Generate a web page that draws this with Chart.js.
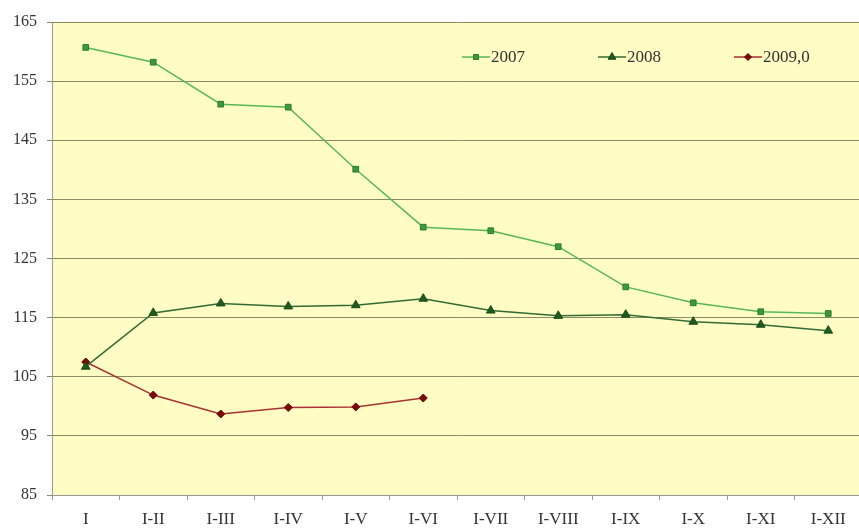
<!DOCTYPE html>
<html>
<head>
<meta charset="utf-8">
<script src="https://cdn.jsdelivr.net/npm/chart.js@4"></script>
<style>
  html, body { margin: 0; padding: 0; background: #fff; overflow: hidden; }
  #wrap { position: relative; width: 868px; height: 531px; }
</style>
</head>
<body>
<div id="wrap"><canvas id="chart-1"></canvas></div>
<script>
const ctx = document.getElementById('chart-1');

const labels = ['I', 'I-II', 'I-III', 'I-IV', 'I-V', 'I-VI', 'I-VII', 'I-VIII', 'I-IX', 'I-X', 'I-XI', 'I-XII'];
const values2007 = [160.7, 158.2, 151.1, 150.6, 140.1, 130.3, 129.7, 127.0, 120.2, 117.5, 116.0, 115.7];
const values2008 = [106.7, 115.8, 117.4, 116.9, 117.1, 118.2, 116.2, 115.3, 115.5, 114.3, 113.8, 112.8];
const values2009 = [107.5, 101.9, 98.7, 99.8, 99.9, 101.4];

// plot area background + legend drawn inside the plot, line + marker like the original
const plotBg = {
    id: 'plotBg',
    beforeDraw(chart) {
        const a = chart.chartArea;
        const c = chart.ctx;
        c.save();
        c.fillStyle = '#fffcc4';
        c.fillRect(a.left, a.top, a.right - a.left, a.bottom - a.top);
        c.restore();
    },
    afterDraw(chart) {
        const a = chart.chartArea;
        const c = chart.ctx;
        const y = a.top + 35;
        chart.data.datasets.forEach((ds, i) => {
            const x = a.left + 410 + i * 136;
            c.save();
            c.strokeStyle = ds.borderColor;
            c.lineWidth = 1.5;
            c.beginPath();
            c.moveTo(x, y);
            c.lineTo(x + 28, y);
            c.stroke();
            c.fillStyle = ds.pointBackgroundColor;
            c.strokeStyle = ds.pointBorderColor;
            c.lineWidth = 1;
            Chart.helpers.drawPoint(c, {
                pointStyle: ds.pointStyle,
                radius: ds.pointRadius - 0.5,
                borderWidth: 1
            }, x + 14, y);
            c.fillStyle = '#333';
            c.font = '17px "Liberation Serif"';
            c.textBaseline = 'middle';
            c.fillText(ds.label, x + 29, y + 1);
            c.restore();
        });
    }
};

new Chart(ctx, {
    type: 'line',
    data: {
        labels: labels,
        datasets: [
            {
                label: '2007',
                data: values2007,
                borderColor: '#58b858',
                borderWidth: 1.5,
                pointStyle: 'rect',
                pointRadius: 4,
                pointBackgroundColor: '#3c9a3c',
                pointBorderColor: '#2c7a2c',
                pointBorderWidth: 1
            },
            {
                label: '2008',
                data: values2008,
                borderColor: '#336b33',
                borderWidth: 1.5,
                pointStyle: 'triangle',
                pointRadius: 5,
                pointBackgroundColor: '#1f5a1f',
                pointBorderColor: '#1a4a1a',
                pointBorderWidth: 1
            },
            {
                label: '2009,0',
                data: values2009,
                borderColor: '#a83232',
                borderWidth: 1.5,
                pointStyle: 'rectRot',
                pointRadius: 4,
                pointBackgroundColor: '#7a0a0a',
                pointBorderColor: '#6a0000',
                pointBorderWidth: 1
            }
        ]
    },
    options: {
        responsive: true,
        maintainAspectRatio: false,
        animation: false,
        layout: { padding: { top: 22, right: 1, left: 0, bottom: 0 } },
        plugins: {
            legend: { display: false },
            tooltip: { enabled: false }
        },
        scales: {
            x: {
                offset: true,
                afterFit(scale) { scale.height = 36; },
                grid: {
                    offset: true,
                    drawOnChartArea: false,
                    tickLength: 5,
                    color: '#999'
                },
                border: { color: '#999' },
                ticks: {
                    color: '#333',
                    padding: 9,
                    maxRotation: 0,
                    font: { family: 'Liberation Serif', size: 17 }
                }
            },
            y: {
                min: 85,
                max: 165,
                afterFit(scale) { scale.width = 52; },
                ticks: {
                    stepSize: 10,
                    color: '#333',
                    padding: 10,
                    font: { family: 'Liberation Serif', size: 16 }
                },
                grid: {
                    color: '#8a8a66',
                    tickLength: 5
                },
                border: { color: '#999' }
            }
        }
    },
    plugins: [plotBg]
});
</script>
</body>
</html>
